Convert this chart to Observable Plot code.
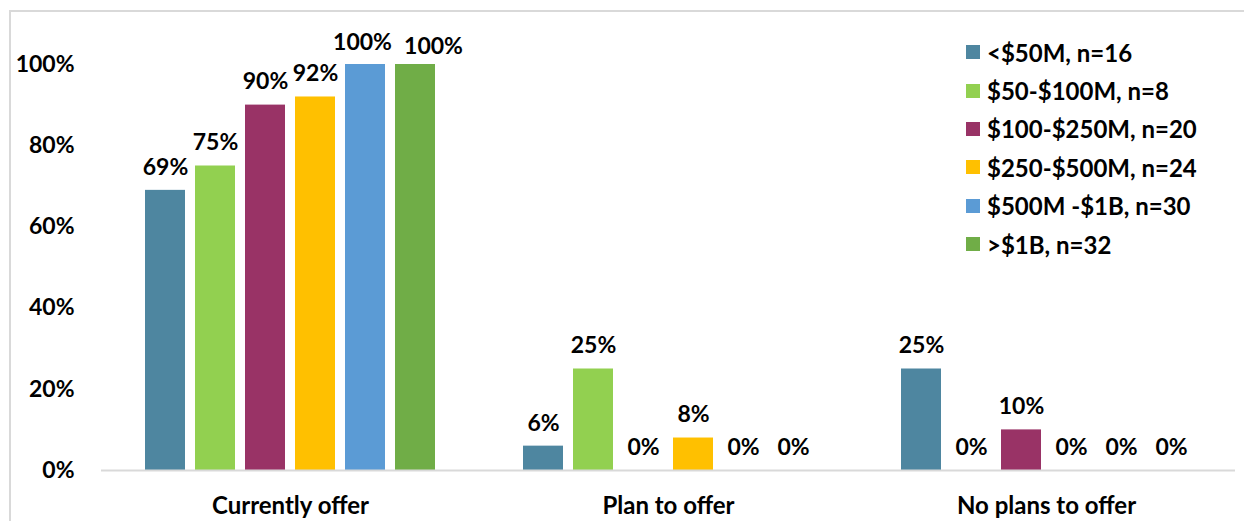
<!DOCTYPE html>
<html>
<head>
<meta charset="utf-8">
<script src="https://cdn.jsdelivr.net/npm/d3@7"></script>
<script src="https://cdn.jsdelivr.net/npm/@observablehq/plot@0.6"></script>
<style>
  html, body { margin: 0; padding: 0; background: #fff; }
  #wrap { position: relative; width: 1244px; height: 521px; overflow: hidden; font-family: Lato, "Open Sans", sans-serif; font-weight: bold; }
  #border { position: absolute; left: 9px; top: 10px; width: 1300px; height: 600px; border: 2px solid #d9d9d9; box-sizing: border-box; }
  #chart { position: absolute; left: 0; top: 0; }
  #legend { position: absolute; left: 966px; top: 33px; }
  .row { display: flex; align-items: center; height: 38.4px; font-size: 24px; color: #000; white-space: nowrap; }
  .sw { width: 14px; height: 14px; margin-right: 7px; flex: none; }
</style>
</head>
<body>
<div id="wrap">
  <div id="border"></div>
  <div id="chart"></div>
  <div id="legend"></div>
</div>
<script>
const categories = ["Currently offer", "Plan to offer", "No plans to offer"];
const series = ["<$50M, n=16", "$50-$100M, n=8", "$100-$250M, n=20", "$250-$500M, n=24", "$500M -$1B, n=30", ">$1B, n=32"];
const colors = ["#4E86A0", "#92D050", "#993366", "#FFC000", "#5B9BD5", "#70AD47"];
const currentlyOffer = [0.69, 0.75, 0.90, 0.92, 1.00, 1.00];
const planToOffer = [0.06, 0.25, 0.00, 0.08, 0.00, 0.00];
const noPlansToOffer = [0.25, 0.00, 0.10, 0.00, 0.00, 0.00];
const yTicks = [0, 0.2, 0.4, 0.6, 0.8, 1.0];

const valuesByCategory = [currentlyOffer, planToOffer, noPlansToOffer];
const data = [];
categories.forEach((c, i) => series.forEach((s, j) => data.push({category: c, series: s, value: valuesByCategory[i][j]})));

const pct = v => Math.round(v * 100) + "%";
// the two adjacent 100% labels are nudged apart in the original
const isA = d => d.category === categories[0] && d.series === series[4];
const isB = d => d.category === categories[0] && d.series === series[5];

const chart = Plot.plot({
  width: 1244,
  height: 521,
  marginLeft: 100,
  marginRight: 8,
  marginTop: 64,
  marginBottom: 51,
  style: {fontFamily: "Lato, 'Open Sans', sans-serif", fontWeight: "bold", fontSize: "23px", color: "#000", background: "transparent"},
  fx: {domain: categories, padding: 0, label: null, axis: null},
  x: {domain: series, paddingInner: 0.2, paddingOuter: 0.865, axis: null},
  y: {domain: [0, 1], ticks: yTicks, tickFormat: pct, tickSize: 0, tickPadding: 27, label: null},
  color: {domain: series, range: colors},
  marks: [
    Plot.axisFx({anchor: "bottom", tickSize: 0, tickPadding: 26, label: null, fontSize: 24}),
    Plot.barY(data, {fx: "category", x: "series", y: "value", fill: "series"}),
    Plot.ruleY([0], {stroke: "#d9d9d9", strokeWidth: 2}),
    Plot.text(data.filter(d => !isA(d) && !isB(d)), {fx: "category", x: "series", y: "value", text: d => pct(d.value), dy: -23, fill: "#000"}),
    Plot.text(data.filter(isA), {fx: "category", x: "series", y: "value", text: d => pct(d.value), dy: -22, dx: -3, fill: "#000"}),
    Plot.text(data.filter(isB), {fx: "category", x: "series", y: "value", text: d => pct(d.value), dy: -18, dx: 18, fill: "#000"})
  ]
});
document.getElementById("chart").appendChild(chart);

const legend = document.getElementById("legend");
series.forEach((s, i) => {
  const row = document.createElement("div");
  row.className = "row";
  const sw = document.createElement("div");
  sw.className = "sw";
  sw.style.background = colors[i];
  const t = document.createElement("span");
  t.textContent = s;
  row.appendChild(sw);
  row.appendChild(t);
  legend.appendChild(row);
});
</script>
</body>
</html>
